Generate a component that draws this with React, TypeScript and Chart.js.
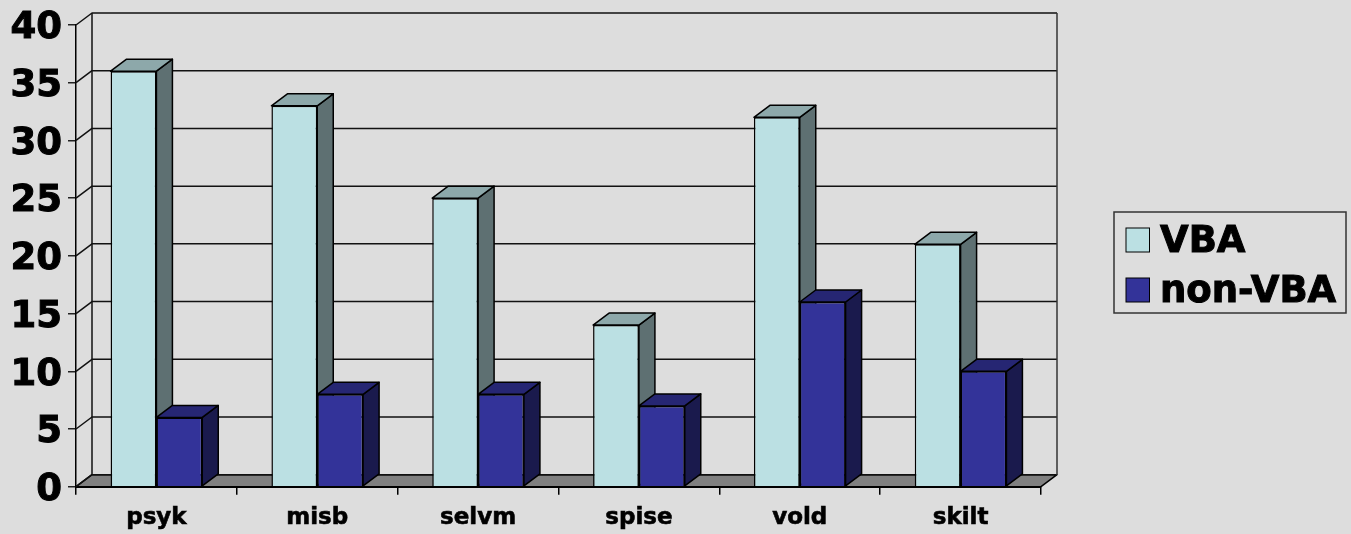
import React, { useEffect, useRef } from "react";
import { Chart, registerables } from "chart.js";

Chart.register(...registerables);

const categories = ["psyk", "misb", "selvm", "spise", "vold", "skilt"];
const vbaValues = [36, 33, 25, 14, 32, 21];
const nonVbaValues = [6, 8, 8, 7, 16, 10];
const seriesNames = ["VBA", "non-VBA"];

const BG = "#DDDDDD";
const FRONT = ["#BBE0E3", "#333399"];
const SIDE = ["#5E7072", "#1A1A4D"];
const TOP = ["#8DA8AA", "#262673"];
const DX = 16;
const DY = -12;
const FONT = "'DejaVu Sans'";

function line(ctx: CanvasRenderingContext2D, pts: number[][], color = "#111", w = 1.5) {
  ctx.beginPath();
  pts.forEach((p, i) => (i ? ctx.lineTo(p[0], p[1]) : ctx.moveTo(p[0], p[1])));
  ctx.strokeStyle = color;
  ctx.lineWidth = w;
  ctx.stroke();
}

function poly(ctx: CanvasRenderingContext2D, pts: number[][], fill: string) {
  ctx.beginPath();
  pts.forEach((p, i) => (i ? ctx.lineTo(p[0], p[1]) : ctx.moveTo(p[0], p[1])));
  ctx.closePath();
  ctx.fillStyle = fill;
  ctx.fill();
  ctx.strokeStyle = "#000";
  ctx.lineWidth = 1.5;
  ctx.lineJoin = "round";
  ctx.stroke();
}

const threeD = {
  id: "threeD",
  beforeDatasetsDraw(chart: any) {
    const { ctx, chartArea: a, scales } = chart;
    const yS = scales.y;
    ctx.save();
    poly(
      ctx,
      [
        [a.left, a.bottom],
        [a.left + DX, a.bottom + DY],
        [a.right + DX, a.bottom + DY],
        [a.right, a.bottom],
      ],
      "#808080"
    );
    yS.ticks.forEach((t: any) => {
      const y = yS.getPixelForValue(t.value);
      line(ctx, [
        [a.left, y],
        [a.left + DX, y + DY],
        [a.right + DX, y + DY],
      ]);
    });
    line(ctx, [
      [a.left + DX, a.top + DY],
      [a.left + DX, a.bottom + DY],
    ]);
    line(
      ctx,
      [
        [a.right + DX, a.top + DY],
        [a.right + DX, a.bottom + DY],
      ],
      "#333"
    );
    categories.forEach((_, j) => {
      [0, 1].forEach((d) => {
        const el = chart.getDatasetMeta(d).data[j];
        const l = el.x - el.width / 2;
        const r = el.x + el.width / 2;
        const top = el.y;
        const base = el.base;
        poly(
          ctx,
          [
            [r, top],
            [r + DX, top + DY],
            [r + DX, base + DY],
            [r, base],
          ],
          SIDE[d]
        );
        poly(
          ctx,
          [
            [l, top],
            [l + DX, top + DY],
            [r + DX, top + DY],
            [r, top],
          ],
          TOP[d]
        );
      });
    });
    ctx.restore();
  },
};

const background = {
  id: "background",
  beforeDraw(chart: any) {
    const { ctx, width, height } = chart;
    ctx.save();
    ctx.fillStyle = BG;
    ctx.fillRect(0, 0, width, height);
    ctx.restore();
  },
};

const boxLegend = {
  id: "boxLegend",
  afterDraw(chart: any) {
    const { ctx } = chart;
    ctx.save();
    ctx.strokeStyle = "#333";
    ctx.lineWidth = 1.5;
    ctx.strokeRect(1114, 212, 232, 101);
    ctx.font = `bold 37px ${FONT}`;
    ctx.textBaseline = "middle";
    ctx.textAlign = "left";
    chart.data.datasets.forEach((ds: any, i: number) => {
      const cy = 240 + i * 50;
      ctx.fillStyle = ds.backgroundColor;
      ctx.fillRect(1126, cy - 12, 23.5, 24);
      ctx.strokeStyle = "#000";
      ctx.lineWidth = 1;
      ctx.strokeRect(1126, cy - 12, 23.5, 24);
      ctx.fillStyle = "#000";
      ctx.lineWidth = 1;
      ctx.fillText(ds.label, 1160, cy + 2);
      ctx.strokeText(ds.label, 1160, cy + 2);
    });
    ctx.restore();
  },
};

export default function App() {
  const ref = useRef<HTMLCanvasElement>(null);
  useEffect(() => {
    document.body.style.margin = "0";
    document.body.style.background = BG;
    const chart = new Chart(ref.current!, {
      type: "bar",
      data: {
        labels: categories,
        datasets: [
          {
            label: seriesNames[0],
            data: vbaValues,
            backgroundColor: FRONT[0],
            borderColor: "#000",
            borderWidth: 1.5,
          },
          {
            label: seriesNames[1],
            data: nonVbaValues,
            backgroundColor: FRONT[1],
            borderColor: "#000",
            borderWidth: 1.5,
          },
        ],
      },
      options: {
        responsive: false,
        animation: false,
        devicePixelRatio: 1,
        layout: { padding: { left: 0, right: 310, top: 25, bottom: 0 } },
        datasets: { bar: { categoryPercentage: 0.57, barPercentage: 1 } },
        plugins: {
          legend: { display: false },
          tooltip: { enabled: false },
          title: { display: false },
        },
        scales: {
          x: {
            afterFit(s: any) {
              s.height = 47.3;
            },
            grid: {
              display: true,
              drawOnChartArea: false,
              drawTicks: true,
              tickLength: 8,
              color: "#000",
              lineWidth: 1.5,
            },
            border: { display: true, color: "#000", width: 2 },
            ticks: {
              color: "#000",
              padding: 10,
              maxRotation: 0,
              textStrokeColor: "#000",
              textStrokeWidth: 0.6,
              font: { family: FONT, weight: "bold", size: 23 },
            },
          },
          y: {
            min: 0,
            max: 40,
            afterFit(s: any) {
              s.width = 76;
            },
            grid: {
              display: true,
              drawOnChartArea: false,
              drawTicks: true,
              tickLength: 8,
              color: "#222",
              lineWidth: 1.5,
            },
            border: { display: true, color: "#000", width: 1.5 },
            ticks: {
              color: "#000",
              stepSize: 5,
              padding: 6,
              textStrokeColor: "#000",
              textStrokeWidth: 1,
              // a blank first line nudges the single digit line down to the reference's position
              callback: (v: any) => ["", String(v)],
              font: { family: FONT, weight: "bold", size: 37, lineHeight: 0.2 },
            },
          },
        },
      } as any,
      plugins: [background, threeD, boxLegend],
    });
    return () => chart.destroy();
  }, []);
  return (
    <canvas
      ref={ref}
      width={1351}
      height={534}
      style={{ position: "absolute", left: 0, top: 0, display: "block" }}
    />
  );
}
